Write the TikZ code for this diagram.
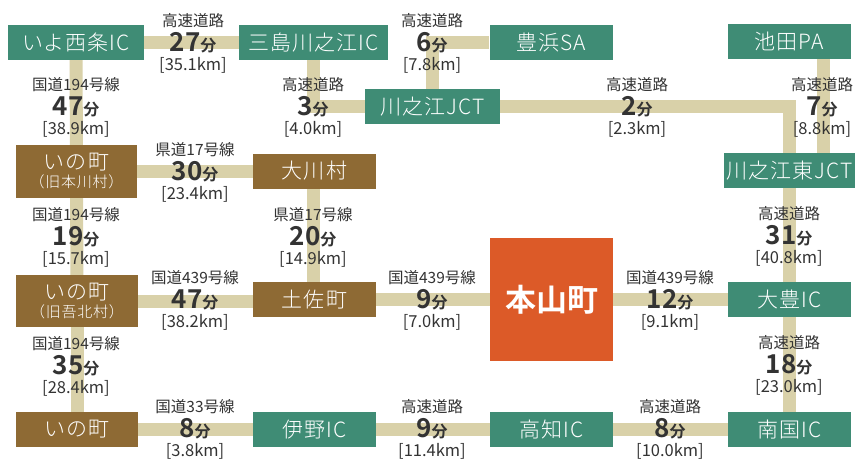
\documentclass[tikz,border=0pt]{standalone}
\usepackage{fontspec}
\setmainfont{Noto Sans CJK JP}[BoldFont={Noto Sans CJK JP Bold}]
\newfontfamily\boxfont{Noto Sans CJK JP Light}[LetterSpace=5]
\usetikzlibrary{backgrounds}
\definecolor{roadc}{HTML}{D9D1A9}
\definecolor{greenc}{HTML}{3F8C75}
\definecolor{brownc}{HTML}{8E6A34}
\definecolor{orangec}{HTML}{DC5A28}
\definecolor{txtc}{HTML}{333333}
\newcommand{\rlabel}[6]{%
  \node[rtype] (#1a) at (#2,#3-22) {#4};
  \node[rtime] (#1b) at (#2,#3) {#5{\fontsize{16}{16}\selectfont 分}};
  \node[rdist] (#1c) at (#2,#3+22) {[#6km]};}
\tikzset{
  box/.style={rectangle, inner sep=0pt, text=white, font=\boxfont\fontsize{21}{23}\selectfont, align=center, minimum height=35},
  gbox/.style={box, fill=greenc, minimum width=123},
  bbox/.style={box, fill=brownc, minimum width=123},
  road/.style={draw=roadc, line width=13pt},
  rtype/.style={inner sep=0pt, text=txtc, font=\fontsize{15.5}{15.5}\selectfont},
  rtime/.style={inner sep=0pt, text=txtc, font=\fontsize{26}{26}\selectfont\bfseries},
  rdist/.style={inner sep=0pt, text=txtc, font=\fontsize{16.5}{16.5}\selectfont},
}
\begin{document}
\begin{tikzpicture}[x=1pt,y=-1pt]
\useasboundingbox (0,0) rectangle (855,461);
% boxes
\node[gbox, minimum width=136] (saijo) at (76,42.5) {いよ西条IC};
\node[gbox, minimum width=149] (mishima) at (313.5,42.5) {三島川之江IC};
\node[gbox, minimum width=135] (jct) at (432.5,106.5) {川之江JCT};
\node[gbox] (toyohama) at (551,42.5) {豊浜SA};
\node[gbox] (ikeda) at (789.5,41.5) {池田PA};
\node[gbox, minimum width=131] (higashi) at (789.5,170.5) {川之江東JCT};
\node[bbox, minimum width=121, minimum height=53] (honkawa) at (76.5,171.5) {いの町\\[-5pt]{\fontsize{15}{16}\selectfont （旧本川村）}};
\node[bbox] (okawa) at (314.5,171) {大川村};
\node[bbox, minimum width=122, minimum height=52] (gohoku) at (77,301) {いの町\\[-5pt]{\fontsize{15}{16}\selectfont （旧吾北村）}};
\node[bbox] (tosa) at (314.5,299.5) {土佐町};
\node[box, fill=orangec, minimum width=123, minimum height=123, font=\fontsize{31}{31}\selectfont\bfseries] (motoyama) at (551.5,299.5) {本山町};
\node[gbox] (otoyo) at (789.5,299.5) {大豊IC};
\node[bbox, minimum width=122] (ino) at (77,429.5) {いの町};
\node[gbox] (inoic) at (314.5,429.5) {伊野IC};
\node[gbox] (kochi) at (551.5,429.5) {高知IC};
\node[gbox] (nankoku) at (789.5,429.5) {南国IC};
% roads
\begin{pgfonlayer}{background}
\fill[white] (0,0) rectangle (855,461);
\draw[road] (saijo) -- (mishima);
\draw[road] (saijo) -- (honkawa.center);
\draw[road] (mishima) |- (jct);
\draw[road] (jct) |- (toyohama);
\draw[road] (jct) -| (higashi);
\draw[road] ([xshift=33.5pt]ikeda.south) -- ([xshift=33.5pt]higashi.north);
\draw[road] (honkawa.center) -- (honkawa.center -| okawa.west);
\draw[road] (honkawa) -- (gohoku);
\draw[road] (okawa.south -| 313,0) -- (tosa.north -| 313,0);
\draw[road] (gohoku.center) -- (gohoku.center -| tosa.west);
\draw[road] (tosa) -- (motoyama);
\draw[road] (motoyama) -- (otoyo);
\draw[road] (higashi) -- (otoyo);
\draw[road] (otoyo) -- (nankoku);
\draw[road] (gohoku) -- (ino);
\draw[road] (ino) -- (inoic);
\draw[road] (inoic) -- (kochi);
\draw[road] (kochi) -- (nankoku);
\end{pgfonlayer}
% labels
\rlabel{la}{193}{43}{高速道路}{27}{35.1}
\rlabel{lb}{76}{107}{国道194号線}{47}{38.9}
\rlabel{lc}{313}{107}{高速道路}{3}{4.0}
\rlabel{ld}{432}{43}{高速道路}{6}{7.8}
\rlabel{le}{637}{107}{高速道路}{2}{2.3}
\rlabel{lf}{822}{107}{高速道路}{7}{8.8}
\rlabel{lg}{195}{172}{県道17号線}{30}{23.4}
\rlabel{lh}{76}{237}{国道194号線}{19}{15.7}
\rlabel{li}{313}{237}{県道17号線}{20}{14.9}
\rlabel{lj}{789}{236}{高速道路}{31}{40.8}
\rlabel{lk}{195}{300}{国道439号線}{47}{38.2}
\rlabel{ll}{432}{300}{国道439号線}{9}{7.0}
\rlabel{lm}{670}{300}{国道439号線}{12}{9.1}
\rlabel{ln}{76}{366}{国道194号線}{35}{28.4}
\rlabel{lo}{789}{365}{高速道路}{18}{23.0}
\rlabel{lp}{195}{429}{国道33号線}{8}{3.8}
\rlabel{lq}{432}{429}{高速道路}{9}{11.4}
\rlabel{lr}{670}{429}{高速道路}{8}{10.0}
\end{tikzpicture}
\end{document}
